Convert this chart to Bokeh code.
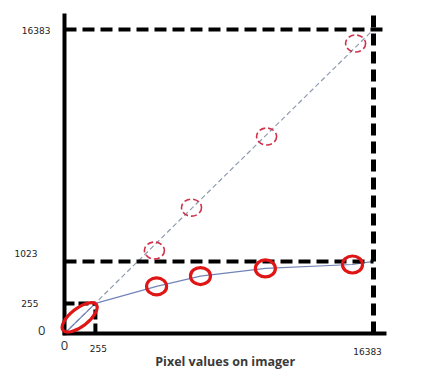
from bokeh.plotting import figure
from bokeh.models import Range1d
from bokeh.core.properties import value
from bokeh.embed import file_html
from bokeh.resources import INLINE

# Schematic axis: tick values and their schematic positions (0..100)
x_tick_vals = ["0", "255", "16383"]
x_tick_pos = [0, 10, 100]
y_tick_vals = ["0", "255", "1023", "16383"]
y_tick_pos = [0, 9.9, 23.7, 100]

# Linear (ideal) mapping points - dashed circles
lin_x = [29.1, 41.1, 65.4, 94.2]
lin_y = [27.3, 41.4, 64.8, 95.4]
# Non-linear (compressed) mapping points - solid circles
nl_x = [29.8, 44.0, 65.0, 93.2]
nl_y = [15.5, 18.9, 21.4, 22.7]
# Curve through compressed points
curve_x = [0, 10] + nl_x + [100]
curve_y = [0, 9.9] + nl_y + [23.7]

xlabel = "Pixel values on imager"

p = figure(width=413, height=369, output_backend="svg", toolbar_location=None,
           x_range=Range1d(-20.71, 112.94), y_range=Range1d(-11.84, 109.54),
           min_border=0, outline_line_color=None)
p.xaxis.visible = False
p.yaxis.visible = False
p.grid.visible = False
p.background_fill_color = "white"

# diagonal dashed (linear)
p.line([x_tick_pos[0], x_tick_pos[-1]], [y_tick_pos[0], y_tick_pos[-1]],
       line_color="#8f9ab0", line_width=1.2, line_dash="5 3")
# compressed curve
p.line(curve_x, curve_y, line_color="#7283b8", line_width=1.2)

# black dashed guides
dash = "12 6"
p.segment(x0=[0], y0=[y_tick_pos[3]], x1=[103.9], y1=[y_tick_pos[3]],
          line_color="black", line_width=4, line_dash=dash)
p.segment(x0=[0], y0=[y_tick_pos[2]], x1=[x_tick_pos[2]], y1=[y_tick_pos[2]],
          line_color="black", line_width=4, line_dash=dash)
p.segment(x0=[x_tick_pos[2]], y0=[0], x1=[x_tick_pos[2]], y1=[105.3],
          line_color="black", line_width=5, line_dash=dash)
p.segment(x0=[0], y0=[y_tick_pos[1]], x1=[x_tick_pos[1]], y1=[y_tick_pos[1]],
          line_color="black", line_width=4, line_dash="10 4")
p.segment(x0=[x_tick_pos[1]], y0=[0], x1=[x_tick_pos[1]], y1=[y_tick_pos[1]],
          line_color="black", line_width=4, line_dash="10 4")

# axes lines
p.segment(x0=[0], y0=[-0.6], x1=[0], y1=[105.3], line_color="black", line_width=4)
p.segment(x0=[-0.6], y0=[0], x1=[104.2], y1=[0], line_color="black", line_width=4)

# dashed circles
p.ellipse(x=lin_x, y=lin_y, width=20, height=17, width_units="screen",
          height_units="screen", fill_color=None, line_color="#d0304a",
          line_width=1.6, line_dash="6 3")
# solid circles
p.ellipse(x=nl_x, y=nl_y, width=20, height=17, width_units="screen",
          height_units="screen", fill_color=None, line_color="#e01515",
          line_width=3.2)
# big tilted ellipse near origin
p.ellipse(x=[4.9], y=[5.3], width=42, height=18, width_units="screen",
          height_units="screen", angle=0.66, fill_color=None,
          line_color="#e01515", line_width=3.2)

small = dict(text_font=value("DejaVu Sans"), text_font_size="9px",
             text_color="#222222", text_baseline="middle")
big = dict(text_font=value("Open Sans"), text_font_size="13px",
           text_color="#333333", text_baseline="middle")

# y tick labels
p.text(x=[0], y=[y_tick_pos[3]], text=[y_tick_vals[3]], x_offset=-14, y_offset=1,
       text_align="right", **small)
p.text(x=[0], y=[y_tick_pos[2]], text=[y_tick_vals[2]], x_offset=-27, y_offset=-8,
       text_align="right", **small)
p.text(x=[0], y=[y_tick_pos[1]], text=[y_tick_vals[1]], x_offset=-26, y_offset=0,
       text_align="right", **small)
p.text(x=[0], y=[y_tick_pos[0]], text=[y_tick_vals[0]], x_offset=-19, y_offset=-3,
       text_align="right", **big)
# x tick labels
p.text(x=[x_tick_pos[0]], y=[0], text=[x_tick_vals[0]], x_offset=0, y_offset=12,
       text_align="center", **big)
p.text(x=[x_tick_pos[1]], y=[0], text=[x_tick_vals[1]], x_offset=3, y_offset=15,
       text_align="center", **small)
p.text(x=[x_tick_pos[2]], y=[0], text=[x_tick_vals[2]], x_offset=-6, y_offset=18,
       text_align="center", **small)

# x axis title
p.text(x=[52], y=[0], text=[xlabel], y_offset=28, text_align="center",
       text_baseline="middle", text_font=value("Open Sans"), text_font_size="12.5px",
       text_font_style="bold", text_color="#3a3a3a")

open("out.html", "w").write(file_html(p, INLINE))
